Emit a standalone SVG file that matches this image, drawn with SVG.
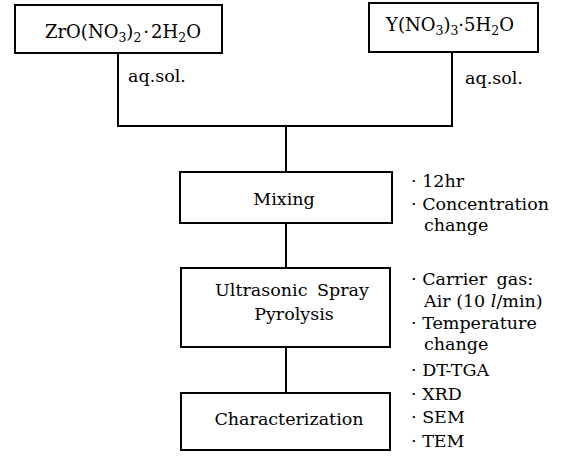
<svg xmlns="http://www.w3.org/2000/svg" width="567" height="468" viewBox="0 0 567 468">
<style>
.box{fill:#fff;stroke:#000;stroke-width:2}
.ln{fill:none;stroke:#000;stroke-width:2}
text{font-family:"DejaVu Serif","Liberation Serif",serif;font-size:17.5px;fill:#000}
.c{text-anchor:middle}
.f{font-size:18px}
.sub{font-size:12.5px}
</style>
<rect width="567" height="468" fill="#fff"/>
<g id="connectors">
<polyline class="ln" points="118,53 118,126 452,126 452,52"/>
<line class="ln" x1="286" y1="126" x2="286" y2="172"/>
<line class="ln" x1="286" y1="223" x2="286" y2="268"/>
<line class="ln" x1="286" y1="347" x2="286" y2="393"/>
</g>
<g id="zro">
<rect class="box" x="15" y="5" width="207" height="48"/>
<text class="f" x="45" y="38">ZrO(NO<tspan class="sub" dy="4">3</tspan><tspan dy="-4">)</tspan><tspan class="sub" dy="4">2</tspan><tspan dy="-4" dx="2">·</tspan><tspan dx="2">2H</tspan><tspan class="sub" dy="4">2</tspan><tspan dy="-4">O</tspan></text>
</g>
<g id="yno">
<rect class="box" x="369" y="3" width="169" height="49"/>
<text class="f" x="386" y="31">Y(NO<tspan class="sub" dy="4">3</tspan><tspan dy="-4">)</tspan><tspan class="sub" dy="4">3</tspan><tspan dy="-4">·5H</tspan><tspan class="sub" dy="4">2</tspan><tspan dy="-4">O</tspan></text>
</g>
<g id="aq-labels">
<text x="128" y="82">aq.sol.</text>
<text x="465" y="84">aq.sol.</text>
</g>
<g id="mixing">
<rect class="box" x="180" y="172" width="212" height="51"/>
<text class="c" x="284" y="205">Mixing</text>
</g>
<g id="mixing-notes">
<text x="411" y="187">· 12hr</text>
<text x="411" y="210">· Concentration</text>
<text x="424" y="231">change</text>
</g>
<g id="usp">
<rect class="box" x="181" y="268" width="209" height="79"/>
<text class="c" x="292" y="296" word-spacing="4">Ultrasonic Spray</text>
<text class="c" x="294" y="320">Pyrolysis</text>
</g>
<g id="usp-notes">
<text x="411" y="285">· Carrier<tspan dx="4"> gas:</tspan></text>
<text x="424" y="307">Air (10 <tspan font-style="italic">l</tspan>/min)</text>
<text x="411" y="329">· Temperature</text>
<text x="424" y="350">change</text>
</g>
<g id="char">
<rect class="box" x="181" y="393" width="209" height="57"/>
<text class="c" x="289" y="425">Characterization</text>
</g>
<g id="char-notes">
<text x="411" y="376">· DT-TGA</text>
<text x="411" y="400">· XRD</text>
<text x="411" y="423">· SEM</text>
<text x="411" y="447">· TEM</text>
</g>
</svg>
